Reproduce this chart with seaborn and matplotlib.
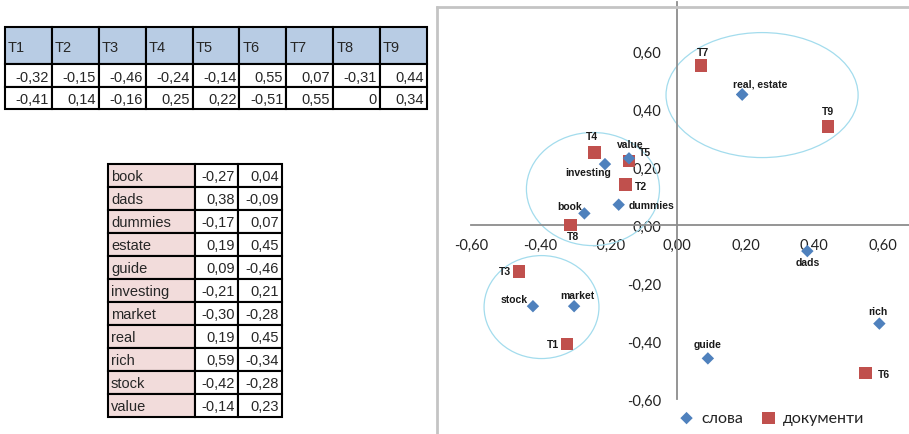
import matplotlib
matplotlib.use("Agg")
import matplotlib.pyplot as plt
from matplotlib.patches import Rectangle, Ellipse
from matplotlib.lines import Line2D
import pandas as pd
import seaborn as sns

# Document coordinates (first two LSA dimensions)
doc_names = ["T1", "T2", "T3", "T4", "T5", "T6", "T7", "T8", "T9"]
doc_x = [-0.32, -0.15, -0.46, -0.24, -0.14, 0.55, 0.07, -0.31, 0.44]
doc_y = [-0.41, 0.14, -0.16, 0.25, 0.22, -0.51, 0.55, 0, 0.34]

# Word coordinates
word_names = ["book", "dads", "dummies", "estate", "guide", "investing",
              "market", "real", "rich", "stock", "value"]
word_x = [-0.27, 0.38, -0.17, 0.19, 0.09, -0.21, -0.30, 0.19, 0.59, -0.42, -0.14]
word_y = [0.04, -0.09, 0.07, 0.45, -0.46, 0.21, -0.28, 0.45, -0.34, -0.28, 0.23]

axis_ticks = [-0.60, -0.40, -0.20, 0.00, 0.20, 0.40, 0.60]
legend_labels = ["слова", "документи"]

BLUE = "#4f81bd"
RED = "#c0504d"
W, H = 909, 435

sns.set_style("white")
plt.rcParams["font.family"] = ["Liberation Sans", "DejaVu Sans"]


def fmt(v):
    return "0" if v == 0 else f"{v:.2f}".replace(".", ",")


def px_box(x0, y0, x1, y1):
    return [x0 / W, 1 - y1 / H, (x1 - x0) / W, (y1 - y0) / H]


fig = plt.figure(figsize=(W / 100, H / 100), dpi=100)
fig.patch.set_facecolor("white")

# ---------------- tables ----------------
tab = fig.add_axes([0, 0, 1, 1])
tab.set_xlim(0, W)
tab.set_ylim(H, 0)
tab.axis("off")
tab.patch.set_visible(False)

LW = 1.5
TFS = 10.5


def cell(x0, y0, x1, y1, face):
    tab.add_patch(Rectangle((x0, y0), x1 - x0, y1 - y0, facecolor=face,
                            edgecolor="black", linewidth=LW))


# documents table: header row + two coordinate rows
t1_cols = [5 + i * (427 - 5) / 9 for i in range(10)]
t1_rows = [28, 65, 88, 110]
for j, name in enumerate(doc_names):
    xa, xb = t1_cols[j], t1_cols[j + 1]
    cell(xa, t1_rows[0], xb, t1_rows[1], "#b8cce4")
    tab.text(xa + 3, (t1_rows[0] + t1_rows[1]) / 2 + 1, name, ha="left",
             va="center", fontsize=TFS)
    for r, vals in enumerate([doc_x, doc_y]):
        ya, yb = t1_rows[r + 1], t1_rows[r + 2]
        cell(xa, ya, xb, yb, "white")
        tab.text(xb - 3, (ya + yb) / 2 + 1, fmt(vals[j]), ha="right",
                 va="center", fontsize=TFS)

# words table
t2_cols = [108, 195, 238, 282]
t2_top, t2_h = 165, 23
for i, name in enumerate(word_names):
    ya, yb = t2_top + i * t2_h, t2_top + (i + 1) * t2_h
    cell(t2_cols[0], ya, t2_cols[1], yb, "#f2dcdb")
    tab.text(t2_cols[0] + 3, (ya + yb) / 2 + 1, name, ha="left",
             va="center", fontsize=TFS)
    for c, vals in enumerate([word_x, word_y]):
        xa, xb = t2_cols[c + 1], t2_cols[c + 2]
        cell(xa, ya, xb, yb, "white")
        tab.text(xb - 3, (ya + yb) / 2 + 1, fmt(vals[i]), ha="right",
                 va="center", fontsize=TFS)

# ---------------- scatter chart ----------------
ax = fig.add_axes(px_box(437, 8, 909, 435))
X0, Y0, SX, SY = 677, 226, 343, 290
ax.set_xlim((437 - X0) / SX, (W - X0) / SX)
ax.set_ylim((Y0 - H) / SY, (Y0 - 8) / SY)
ax.set_facecolor("white")

AX_GRAY = "#8c8c8c"
FRAME = "#c4c4c4"
for side in ("left", "bottom"):
    ax.spines[side].set_position(("data", 0))
    ax.spines[side].set_color(AX_GRAY)
    ax.spines[side].set_linewidth(1.3)
ax.spines["left"].set_bounds(axis_ticks[0], 0.77)
ax.spines["bottom"].set_bounds(axis_ticks[0], ax.get_xlim()[1])
ax.spines["right"].set_visible(False)
ax.spines["top"].set_color(FRAME)
ax.spines["top"].set_linewidth(2)
fig.add_artist(Line2D([437 / W, 437 / W], [0, 1 - 8 / H], color=FRAME,
                      linewidth=2))

tick_text = [f"{t:.2f}".replace(".", ",") for t in axis_ticks]
ax.set_xticks(axis_ticks)
ax.set_xticklabels(tick_text)
ax.set_yticks(axis_ticks)
ax.set_yticklabels(tick_text)
ax.tick_params(axis="x", length=0, pad=9, labelsize=10.5, labelcolor="#222222")
ax.tick_params(axis="y", length=0, pad=11, labelsize=10.5, labelcolor="#222222")
for lab in ax.get_xticklabels() + ax.get_yticklabels():
    lab.set_fontfamily(["Lato", "DejaVu Sans"])

# cluster outlines
for (cx, cy, w, h) in [(0.248, 0.448, 0.56, 0.431),
                       (-0.245, 0.124, 0.388, 0.39),
                       (-0.395, -0.283, 0.335, 0.355)]:
    ax.add_patch(Ellipse((cx, cy), w, h, fill=False, edgecolor="#a3dced",
                         linewidth=0.9, zorder=2))

words = pd.DataFrame({"name": word_names, "x": word_x, "y": word_y})
docs = pd.DataFrame({"name": doc_names, "x": doc_x, "y": doc_y})

sns.scatterplot(data=words, x="x", y="y", marker="D", s=40, color=BLUE,
                edgecolor="none", linewidth=0, zorder=4, ax=ax,
                label=legend_labels[0])
sns.scatterplot(data=docs, x="x", y="y", marker="s", s=80, color=RED,
                edgecolor="none", linewidth=0, zorder=3, ax=ax,
                label=legend_labels[1])
ax.set_xlabel("")
ax.set_ylabel("")

# point labels: words sharing a position get one combined label
label_offsets = {
    "T1": (-8, 0, "right"), "T2": (9, -2, "left"), "T3": (-8, 0, "right"),
    "T4": (-3, 16, "center"), "T5": (16, 9, "center"), "T6": (12, -1, "left"),
    "T7": (2, 14, "center"), "T8": (2, -11, "center"), "T9": (0, 15, "center"),
    "book": (-2, 7, "right"), "dads": (0, -11, "center"),
    "dummies": (10, 0, "left"), "guide": (0, 14, "center"),
    "investing": (-17, -8, "center"), "market": (3, 11, "center"),
    "real, estate": (18, 11, "center"), "rich": (-1, 13, "center"),
    "stock": (-5, 7, "right"), "value": (1, 14, "center"),
}

groups = {}
for frame in (words, docs):
    for _, row in frame.iterrows():
        groups.setdefault((row.x, row.y), []).insert(0, row["name"])
for (x, y), names in groups.items():
    text = ", ".join(names)
    dx, dy, ha = label_offsets.get(text, (0, 12, "center"))
    ax.annotate(text, (x, y), xytext=(dx, dy), textcoords="offset pixels",
                ha=ha, va="center", fontsize=7.5, fontweight="bold",
                color="#1a1a1a", zorder=5)

leg = ax.legend(loc="center", bbox_to_anchor=(0.71, 0.037), ncol=2,
                frameon=False, handlelength=0.8, handletextpad=0.5,
                columnspacing=1.2,
                prop={"family": ["Lato", "DejaVu Sans"], "size": 11.5},
                borderaxespad=0)
for t in leg.get_texts():
    t.set_color("#222222")

fig.savefig("out.png", dpi=100, facecolor="white")
